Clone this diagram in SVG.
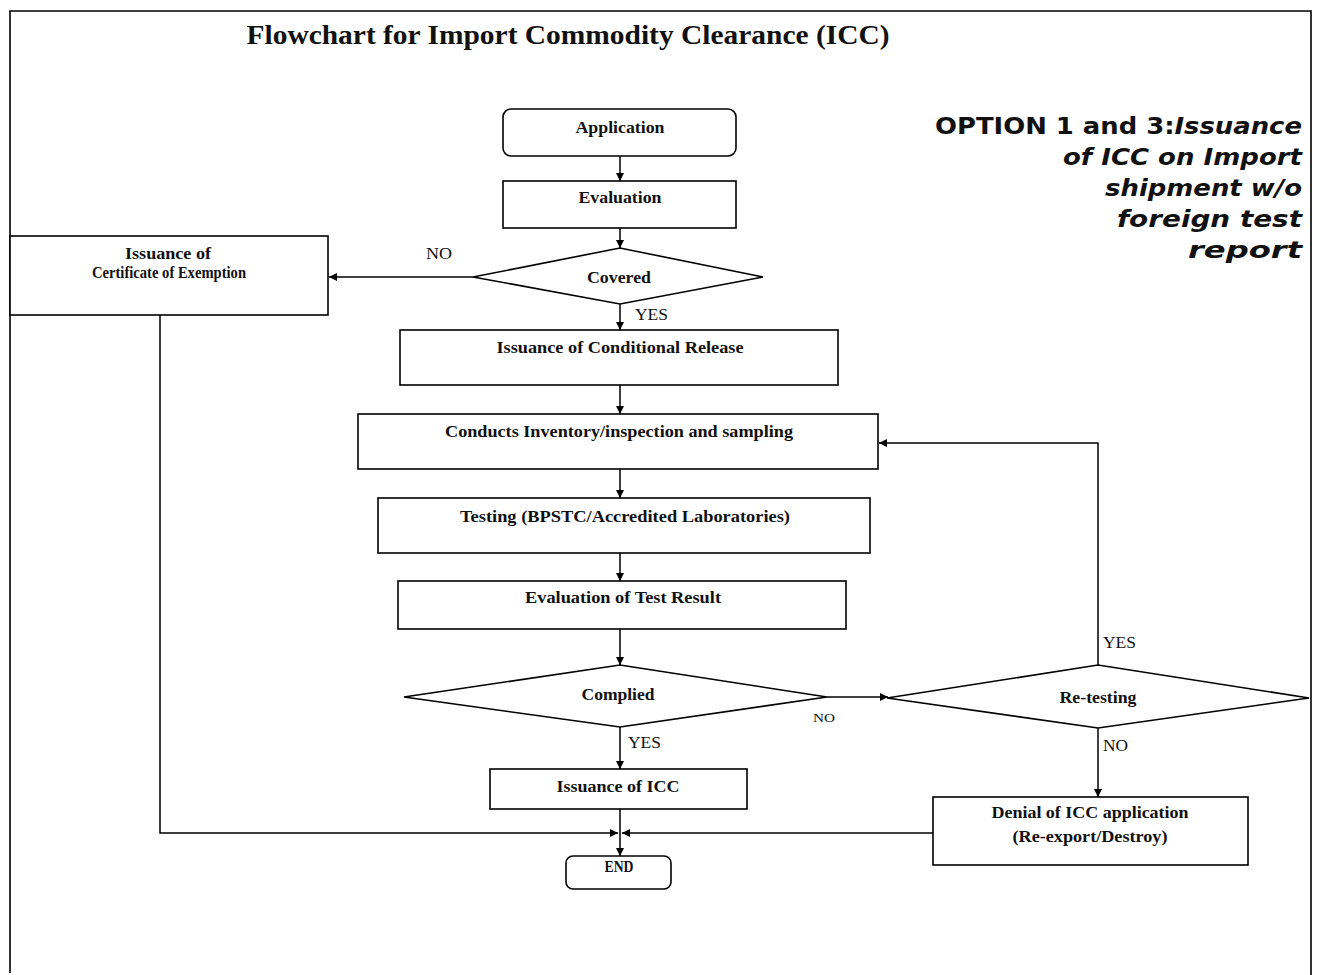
<svg xmlns="http://www.w3.org/2000/svg" width="1320" height="975" viewBox="0 0 1320 975">
  <defs>
    <marker id="arrow" viewBox="0 0 10 10" refX="10" refY="5" markerWidth="8" markerHeight="8" markerUnits="userSpaceOnUse" orient="auto">
      <path d="M0,0 L10,5 L0,10 Z" fill="#000"/>
    </marker>
    <style>
      .box { fill: #fff; stroke: #000; stroke-width: 1.6; }
      .lbl { font-family: "Liberation Serif", "Times New Roman", serif; font-weight: bold; font-size: 17px; fill: #111; text-anchor: middle; }
      .tag { font-family: "Liberation Serif", "Times New Roman", serif; font-size: 16px; fill: #111; }
      .edge { fill: none; stroke: #000; stroke-width: 1.5; }
      .note { font-family: "DejaVu Sans", Verdana, sans-serif; font-weight: bold; font-size: 23px; fill: #111; text-anchor: end; }
    </style>
  </defs>
  <rect width="1320" height="975" fill="#fff"/>

  <!-- page frame (open at the bottom) -->
  <path d="M10,973 V11 H1311 V975" fill="none" stroke="#000" stroke-width="1.6"/>

  <text x="568" y="44" font-family="Liberation Serif, 'Times New Roman', serif" font-weight="bold" font-size="28" text-anchor="middle" textLength="643" lengthAdjust="spacingAndGlyphs" fill="#111">Flowchart for Import Commodity Clearance (ICC)</text>

  <g id="side-note" class="note">
    <text x="1302" y="134" textLength="367" lengthAdjust="spacingAndGlyphs">OPTION 1 and 3:<tspan font-style="italic">Issuance</tspan></text>
    <text x="1302" y="165" font-style="italic" textLength="239" lengthAdjust="spacingAndGlyphs">of ICC on Import</text>
    <text x="1302" y="196" font-style="italic" textLength="197" lengthAdjust="spacingAndGlyphs">shipment w/o</text>
    <text x="1302" y="227" font-style="italic" textLength="185" lengthAdjust="spacingAndGlyphs">foreign test</text>
    <text x="1302" y="258" font-style="italic" textLength="114" lengthAdjust="spacingAndGlyphs">report</text>
  </g>

  <!-- connectors -->
  <g id="connectors" class="edge">
    <path d="M620,156 V181" marker-end="url(#arrow)"/>
    <path d="M620,228 V248" marker-end="url(#arrow)"/>
    <path d="M473,277 H329" marker-end="url(#arrow)"/>
    <path d="M620,304 V330" marker-end="url(#arrow)"/>
    <path d="M620,385 V414" marker-end="url(#arrow)"/>
    <path d="M620,469 V498" marker-end="url(#arrow)"/>
    <path d="M620,553 V581" marker-end="url(#arrow)"/>
    <path d="M620,629 V665" marker-end="url(#arrow)"/>
    <path d="M827,697 H888" marker-end="url(#arrow)"/>
    <path d="M620,727 V769" marker-end="url(#arrow)"/>
    <path d="M1098,665 V443 H879" marker-end="url(#arrow)"/>
    <path d="M1098,728 V797" marker-end="url(#arrow)"/>
    <path d="M160,315 V833 H618" marker-end="url(#arrow)"/>
    <path d="M933,833 H622" marker-end="url(#arrow)"/>
    <path d="M620,809 V856" marker-end="url(#arrow)"/>
  </g>

  <g id="edge-labels" class="tag">
    <text x="426" y="259" textLength="26" lengthAdjust="spacingAndGlyphs">NO</text>
    <text x="635" y="320" textLength="33" lengthAdjust="spacingAndGlyphs">YES</text>
    <text x="628" y="748" textLength="33" lengthAdjust="spacingAndGlyphs">YES</text>
    <text x="813" y="722" font-size="13" textLength="22" lengthAdjust="spacingAndGlyphs">NO</text>
    <text x="1103" y="648" textLength="33" lengthAdjust="spacingAndGlyphs">YES</text>
    <text x="1103" y="751" textLength="25" lengthAdjust="spacingAndGlyphs">NO</text>
  </g>

  <g id="application">
    <rect class="box" x="503" y="109" width="233" height="47" rx="8"/>
    <text class="lbl" x="620" y="133" textLength="89" lengthAdjust="spacingAndGlyphs">Application</text>
  </g>

  <g id="evaluation">
    <rect class="box" x="503" y="181" width="233" height="47"/>
    <text class="lbl" x="620" y="203" textLength="83" lengthAdjust="spacingAndGlyphs">Evaluation</text>
  </g>

  <g id="covered">
    <polygon class="box" points="473,277 620,248 763,277 620,304"/>
    <text class="lbl" x="619" y="283" textLength="64" lengthAdjust="spacingAndGlyphs">Covered</text>
  </g>

  <g id="certificate-of-exemption">
    <rect class="box" x="10" y="236" width="318" height="79"/>
    <text class="lbl" x="168" y="259" font-size="16" textLength="86" lengthAdjust="spacingAndGlyphs">Issuance of</text>
    <text class="lbl" x="169" y="278" font-size="12" textLength="154" lengthAdjust="spacingAndGlyphs">Certificate of Exemption</text>
  </g>

  <g id="conditional-release">
    <rect class="box" x="400" y="330" width="438" height="55"/>
    <text class="lbl" x="620" y="353" textLength="247" lengthAdjust="spacingAndGlyphs">Issuance of Conditional Release</text>
  </g>

  <g id="inspection-sampling">
    <rect class="box" x="358" y="414" width="520" height="55"/>
    <text class="lbl" x="619" y="437" textLength="348" lengthAdjust="spacingAndGlyphs">Conducts Inventory/inspection and sampling</text>
  </g>

  <g id="testing">
    <rect class="box" x="378" y="498" width="492" height="55"/>
    <text class="lbl" x="625" y="522" textLength="330" lengthAdjust="spacingAndGlyphs">Testing (BPSTC/Accredited Laboratories)</text>
  </g>

  <g id="test-result-evaluation">
    <rect class="box" x="398" y="581" width="448" height="48"/>
    <text class="lbl" x="623" y="603" textLength="196" lengthAdjust="spacingAndGlyphs">Evaluation of Test Result</text>
  </g>

  <g id="complied">
    <polygon class="box" points="404,697 620,665 827,697 620,727"/>
    <text class="lbl" x="618" y="700" textLength="73" lengthAdjust="spacingAndGlyphs">Complied</text>
  </g>

  <g id="re-testing">
    <polygon class="box" points="887,698 1098,665 1309,698 1098,728"/>
    <text class="lbl" x="1098" y="703" textLength="77" lengthAdjust="spacingAndGlyphs">Re-testing</text>
  </g>

  <g id="issuance-of-icc">
    <rect class="box" x="490" y="769" width="257" height="40"/>
    <text class="lbl" x="618" y="792" textLength="123" lengthAdjust="spacingAndGlyphs">Issuance of ICC</text>
  </g>

  <g id="denial">
    <rect class="box" x="933" y="797" width="315" height="68"/>
    <text class="lbl" x="1090" y="818" font-size="15" textLength="197" lengthAdjust="spacingAndGlyphs">Denial of ICC application</text>
    <text class="lbl" x="1090" y="842" font-size="15" textLength="155" lengthAdjust="spacingAndGlyphs">(Re-export/Destroy)</text>
  </g>

  <g id="end">
    <rect class="box" x="566" y="856" width="105" height="33" rx="7"/>
    <text class="lbl" x="619" y="872" font-size="12" textLength="29" lengthAdjust="spacingAndGlyphs">END</text>
  </g>
</svg>
